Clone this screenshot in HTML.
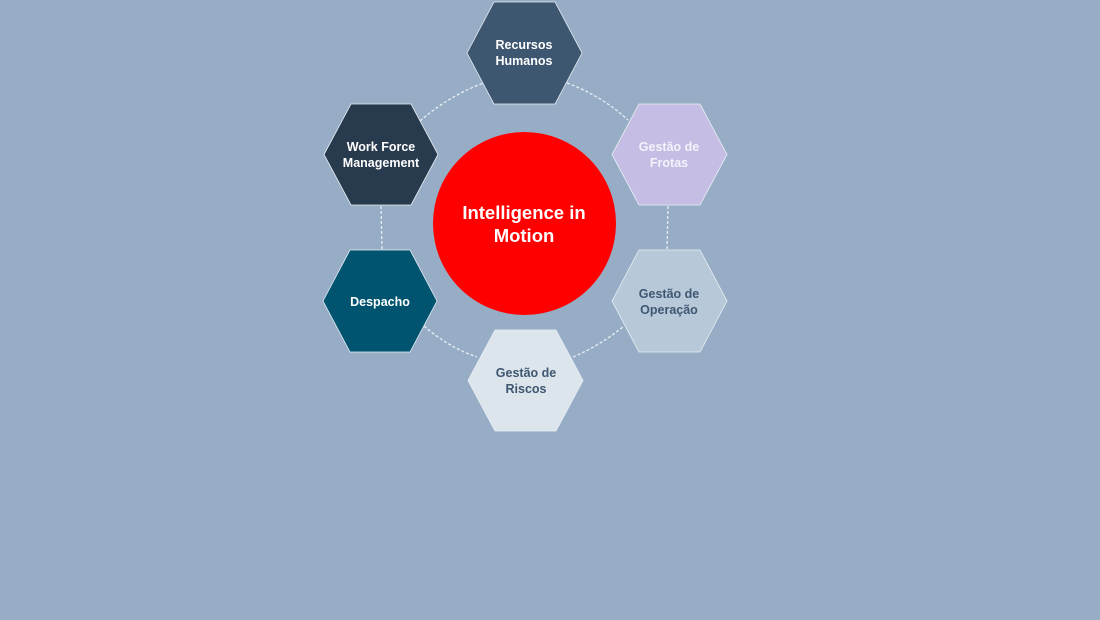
<!DOCTYPE html>
<html><head><style>
html,body{margin:0;padding:0;width:1100px;height:620px;background:#97adc6;overflow:hidden}
svg{display:block}
text{font-family:"Liberation Sans",Arial,sans-serif;font-weight:bold;text-anchor:middle}
</style></head><body>
<svg width="1100" height="620" viewBox="0 0 1100 620">
<g fill="none" stroke="#e8eef4" stroke-width="1.3" stroke-dasharray="3,2">
<path d="M420 121 Q450 95 484 83"/>
<path d="M567 83 Q602 96 628 120"/>
<path d="M668 206 L667 250"/>
<path d="M381 206 L382 250"/>
<path d="M424 326 Q448 347 477 357"/>
<path d="M573 357 Q601 345 624 326"/>
</g>
<g stroke="#e8eef4" stroke-width="0.8">
<polygon points="467,53 494,2 555,2 582,53 555,104 494,104" fill="#3e5771"/>
<polygon points="324,154.5 351,104 411,104 438,154.5 411,205 351,205" fill="#283a4e"/>
<polygon points="612,154.5 639,104 700,104 727,154.5 700,205 639,205" fill="#c5bde3"/>
<polygon points="323,301 350,250 410,250 437,301 410,352 350,352" fill="#005470"/>
<polygon points="612,301 639,250 700,250 727,301 700,352 639,352" fill="#b7c8d8"/>
<polygon points="468,380.5 495,330 556,330 583,380.5 556,431 495,431" fill="#dce4ec"/>
</g>
<circle cx="524.5" cy="223.5" r="91.5" fill="#ff0000"/>
<g font-size="12.5">
<text x="524" y="49" fill="#fff">Recursos</text><text x="524" y="65" fill="#fff">Humanos</text>
<text x="381" y="151" fill="#fff">Work Force</text><text x="381" y="167" fill="#fff">Management</text>
<text x="669" y="151" fill="#f4f2fb">Gestão de</text><text x="669" y="167" fill="#f4f2fb">Frotas</text>
<text x="380" y="306" fill="#fff">Despacho</text>
<text x="669" y="298" fill="#3e5771">Gestão de</text><text x="669" y="314" fill="#3e5771">Operação</text>
<text x="526" y="377" fill="#3e5771">Gestão de</text><text x="526" y="393" fill="#3e5771">Riscos</text>
</g>
<text x="524" y="219" fill="#fff" font-size="18.5">Intelligence in</text>
<text x="524" y="242" fill="#fff" font-size="18.5">Motion</text>
</svg>
</body></html>
